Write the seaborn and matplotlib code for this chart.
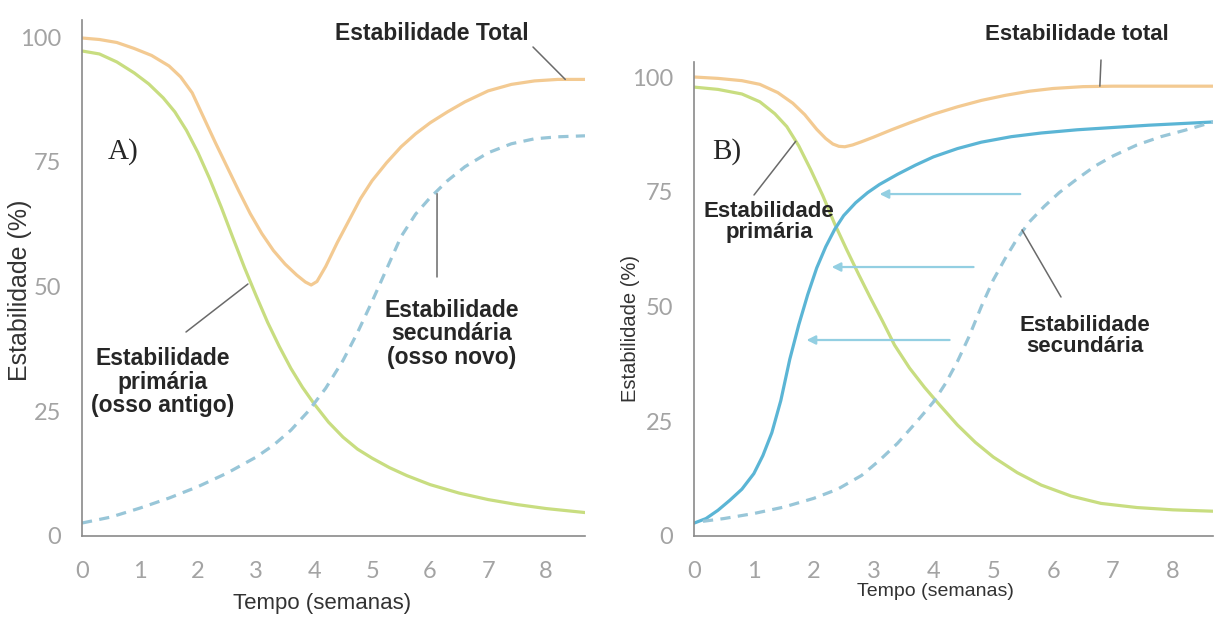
import matplotlib
matplotlib.use("Agg")
import matplotlib.pyplot as plt
import seaborn as sns

# ---- Panel A: primary vs secondary stability (weeks, %) ----
a_total_t = [0, 0.3, 0.6, 0.9, 1.2, 1.5, 1.7, 1.9, 2.1, 2.3, 2.5, 2.7, 2.9, 3.1, 3.3, 3.5, 3.7, 3.85,
             3.95, 4.05, 4.2, 4.4, 4.6, 4.8, 5.0, 5.25, 5.5, 5.75, 6.0, 6.3, 6.6, 7.0, 7.4, 7.8, 8.2, 8.67]
a_total_v = [99.8, 99.5, 98.9, 97.7, 96.3, 94.2, 92.0, 88.8, 83.8, 78.8, 74.0, 69.2, 64.6, 60.6, 57.2, 54.5,
             52.3, 50.9, 50.3, 51.0, 54.0, 58.8, 63.2, 67.6, 71.2, 74.8, 78.0, 80.6, 82.8, 85.0, 87.0,
             89.2, 90.5, 91.2, 91.5, 91.5]

a_prim_t = [0, 0.3, 0.6, 0.9, 1.15, 1.4, 1.6, 1.8, 2.0, 2.2, 2.4, 2.6, 2.8, 3.0, 3.2, 3.4, 3.6, 3.8,
            4.0, 4.25, 4.5, 4.75, 5.0, 5.3, 5.6, 6.0, 6.5, 7.0, 7.5, 8.0, 8.67]
a_prim_v = [97.2, 96.6, 95.0, 92.8, 90.6, 87.8, 85.0, 81.3, 76.8, 71.6, 65.9, 59.8, 53.8, 48.2, 42.8, 38.0,
            33.6, 29.8, 26.5, 22.8, 19.8, 17.4, 15.6, 13.7, 12.1, 10.3, 8.6, 7.3, 6.3, 5.5, 4.7]

a_sec_t = [0, 0.5, 1.0, 1.5, 2.0, 2.5, 3.0, 3.3, 3.6, 3.9, 4.2, 4.5, 4.75, 5.0, 5.25, 5.5, 5.75,
           6.0, 6.3, 6.6, 7.0, 7.4, 7.8, 8.2, 8.67]
a_sec_v = [2.6, 3.8, 5.6, 7.6, 9.9, 12.6, 15.8, 18.2, 21.2, 25.0, 29.6, 35.2, 40.8, 47.0, 53.5, 60.0, 64.5,
           67.8, 71.2, 74.0, 76.8, 78.6, 79.6, 80.0, 80.2]

# ---- Panel B: faster secondary stability ----
b_total_t = [0, 0.4, 0.8, 1.1, 1.4, 1.65, 1.85, 2.05, 2.2, 2.32, 2.42, 2.52, 2.65, 2.8, 3.0, 3.3, 3.6,
             4.0, 4.4, 4.8, 5.2, 5.6, 6.0, 6.5, 7.0, 8.67]
b_total_v = [100, 99.7, 99.2, 98.4, 96.6, 94.3, 91.8, 88.6, 86.6, 85.4, 84.9, 84.8, 85.2, 85.9, 86.9, 88.5,
             90.0, 91.9, 93.5, 94.9, 96.0, 96.9, 97.5, 97.9, 98.0, 98.0]

b_prim_t = [0, 0.4, 0.8, 1.1, 1.35, 1.55, 1.75, 1.95, 2.15, 2.35, 2.55, 2.75, 2.95, 3.15, 3.35, 3.6,
            3.85, 4.1, 4.4, 4.7, 5.0, 5.4, 5.8, 6.3, 6.8, 7.4, 8.0, 8.67]
b_prim_v = [97.8, 97.3, 96.3, 94.6, 92.0, 89.2, 85.0, 79.8, 74.2, 68.0, 62.4, 57.0, 51.8, 46.8, 41.6, 36.6,
            32.4, 28.6, 24.2, 20.4, 17.2, 13.8, 11.1, 8.7, 7.1, 6.2, 5.7, 5.4]

b_fast_t = [0, 0.2, 0.4, 0.6, 0.8, 1.0, 1.15, 1.3, 1.45, 1.6, 1.75, 1.9, 2.05, 2.2, 2.35, 2.5, 2.7,
            2.9, 3.1, 3.4, 3.7, 4.0, 4.4, 4.8, 5.3, 5.8, 6.4, 7.0, 7.6, 8.67]
b_fast_v = [2.8, 3.8, 5.6, 7.8, 10.2, 13.6, 17.5, 22.5, 29.5, 38.5, 46.0, 52.6, 58.4, 63.0, 66.8, 69.8,
            72.6, 74.8, 76.6, 78.8, 80.8, 82.6, 84.4, 85.8, 87.0, 87.8, 88.5, 89.0, 89.5, 90.2]

b_sec_t = [0.15, 0.5, 1.0, 1.5, 2.0, 2.4, 2.8, 3.1, 3.4, 3.7, 4.0, 4.2, 4.4, 4.6, 4.8, 5.0, 5.2, 5.4,
           5.6, 5.85, 6.1, 6.4, 6.7, 7.0, 7.4, 7.8, 8.2, 8.67]
b_sec_v = [3.2, 3.8, 4.9, 6.3, 8.2, 10.2, 13.2, 16.5, 20.2, 24.6, 29.2, 33.2, 38.0, 43.6, 50.0, 55.8, 60.5,
           64.8, 68.4, 71.8, 74.8, 77.8, 80.6, 82.8, 85.2, 87.0, 88.4, 90.2]

# shift arrows in panel B: level (%), from week, to week
shift_level = [74.5, 58.6, 42.7]
shift_from = [5.45, 4.67, 4.27]
shift_to = [3.1, 2.3, 1.88]

x_ticks = [0, 1, 2, 3, 4, 5, 6, 7, 8]
y_ticks = [0, 25, 50, 75, 100]

ORANGE = "#f3ca92"
GREEN = "#c8dd80"
BLUE = "#5bb5d5"
BLUE_DASH = "#98c6d8"
ARROW = "#93cfe2"
SPINE = "#8a8a8a"
TICKLBL = "#a3a3a3"
TXT = "#262626"
LEADER = "#6a6a6a"

sns.set_theme(style="white")
plt.rcParams["font.family"] = ["Liberation Sans", "DejaVu Sans"]

W, H = 1217, 617
fig = plt.figure(figsize=(W / 100, H / 100), dpi=100)
fig.patch.set_facecolor("white")


def px(x, y):
    """figure-pixel position measured from the top-left corner"""
    return (x, H - y)


axA = fig.add_axes([82 / W, 81 / H, 503 / W, 516 / H])
axB = fig.add_axes([694 / W, 81 / H, 519 / W, 474 / H])

LW = 2.3
DASH = (0, (3.2, 2.3))
sns.lineplot(x=a_total_t, y=a_total_v, ax=axA, color=ORANGE, lw=LW, estimator=None, sort=False)
sns.lineplot(x=a_prim_t, y=a_prim_v, ax=axA, color=GREEN, lw=LW, estimator=None, sort=False)
sns.lineplot(x=a_sec_t, y=a_sec_v, ax=axA, color=BLUE_DASH, lw=LW, estimator=None, sort=False,
             linestyle=DASH)

sns.lineplot(x=b_total_t, y=b_total_v, ax=axB, color=ORANGE, lw=LW, estimator=None, sort=False)
sns.lineplot(x=b_prim_t, y=b_prim_v, ax=axB, color=GREEN, lw=LW, estimator=None, sort=False)
sns.lineplot(x=b_fast_t, y=b_fast_v, ax=axB, color=BLUE, lw=LW, estimator=None, sort=False)
sns.lineplot(x=b_sec_t, y=b_sec_v, ax=axB, color=BLUE_DASH, lw=LW, estimator=None, sort=False,
             linestyle=DASH)

for ax in (axA, axB):
    for ln in ax.get_lines():
        ln.set_solid_joinstyle("round")
        ln.set_solid_capstyle("round")

for lvl, t0, t1 in zip(shift_level, shift_from, shift_to):
    axB.annotate("", xy=(t1, lvl), xytext=(t0, lvl),
                 arrowprops=dict(arrowstyle="-|>", color=ARROW, lw=1.6, mutation_scale=13,
                                 shrinkA=0, shrinkB=0))

for ax, top in ((axA, 516 / 4.99), (axB, 474 / 4.59)):
    ax.set_xlim(0, 8.67)
    ax.set_ylim(0, top)
    ax.set_xticks(x_ticks)
    ax.set_yticks(y_ticks)
    for s in ("top", "right"):
        ax.spines[s].set_visible(False)
    for s in ("left", "bottom"):
        ax.spines[s].set_color(SPINE)
        ax.spines[s].set_linewidth(1.2)
    ax.tick_params(axis="both", direction="out", length=13, width=1.2, color=SPINE,
                   labelcolor=TICKLBL, labelsize=17)
    ax.tick_params(axis="x", pad=5)
    ax.tick_params(axis="y", pad=2)
    for lab in ax.get_xticklabels() + ax.get_yticklabels():
        lab.set_fontfamily(["Lato", "DejaVu Sans"])
        lab.set_fontweight("normal")
    ax.set_xlabel("")
    ax.set_ylabel("")
    ax.set_facecolor("white")

# axis titles
fig.text(*px(20, 290), "Estabilidade (%)", rotation=90, ha="center", va="center",
         fontsize=18, color="#333333", transform=None)
fig.text(*px(322, 604), "Tempo (semanas)", ha="center", va="center",
         fontsize=16, color="#333333", transform=None)
fig.text(*px(630, 329), "Estabilidade (%)", rotation=90, ha="center", va="center",
         fontsize=14.5, color="#333333", transform=None)
fig.text(*px(935, 592), "Tempo (semanas)", ha="center", va="center",
         fontsize=14, color="#333333", transform=None)

# panel letters
fig.text(*px(123, 152), "A)", ha="center", va="center", fontsize=21,
         family=["Liberation Serif", "DejaVu Serif"], color=TXT, transform=None)
fig.text(*px(727, 152), "B)", ha="center", va="center", fontsize=21,
         family=["Liberation Serif", "DejaVu Serif"], color=TXT, transform=None)

# curve labels with leader lines
bold = dict(fontweight="bold", color=TXT, ha="center", va="center", transform=None)


def leader(ax, t, v, x, y):
    ax.annotate("", xy=(t, v), xycoords="data", xytext=px(x, y), textcoords="figure pixels",
                arrowprops=dict(arrowstyle="-", color=LEADER, lw=1.1, shrinkA=0, shrinkB=0))


fig.text(*px(432, 33), "Estabilidade Total", fontsize=16.5, **bold)
leader(axA, 8.33, 91.5, 533, 47)

fig.text(*px(452, 334), "Estabilidade\nsecundária\n(osso novo)", fontsize=16.5, linespacing=1.05, **bold)
leader(axA, 6.12, 68.6, 437, 277)

fig.text(*px(163, 382), "Estabilidade\nprimária\n(osso antigo)", fontsize=16.5, linespacing=1.05, **bold)
leader(axA, 2.86, 50.5, 186, 332)

fig.text(*px(1077, 34), "Estabilidade total", fontsize=16, **bold)
leader(axB, 6.78, 98.0, 1101, 60)

fig.text(*px(769, 222), "Estabilidade\nprimária", fontsize=16, linespacing=0.95, **bold)
leader(axB, 1.7, 86.0, 754, 195)

fig.text(*px(1085, 336), "Estabilidade\nsecundária", fontsize=16, linespacing=0.95, **bold)
leader(axB, 5.48, 66.7, 1061, 297)

fig.savefig("out.png", dpi=100, facecolor="white")
